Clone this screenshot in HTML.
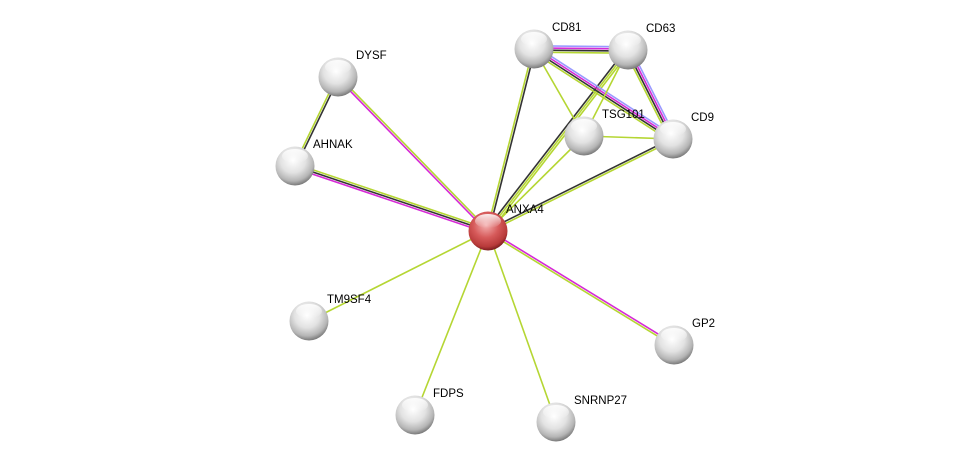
<!DOCTYPE html>
<html><head><meta charset="utf-8"><style>
body{margin:0;background:#fff;width:976px;height:468px;overflow:hidden}
svg{display:block}
text{font-family:"Liberation Sans",sans-serif;font-size:11.5px;fill:#000}
</style></head><body>
<svg id="s" width="976" height="468" xmlns="http://www.w3.org/2000/svg">
<defs>
<radialGradient id="g" cx="45%" cy="35%" r="65%">
<stop offset="0" stop-color="#ffffff"/><stop offset="0.5" stop-color="#e2e2e2"/><stop offset="0.82" stop-color="#b5b5b5"/><stop offset="1" stop-color="#7a7a7a"/></radialGradient>
<radialGradient id="r" cx="45%" cy="35%" r="65%">
<stop offset="0" stop-color="#f4b0b0"/><stop offset="0.5" stop-color="#d65a5a"/><stop offset="0.85" stop-color="#b83a3a"/><stop offset="1" stop-color="#7a1e1e"/></radialGradient>
<linearGradient id="hl" x1="0" y1="0" x2="0" y2="1"><stop offset="0" stop-color="#fff" stop-opacity="0.9"/><stop offset="1" stop-color="#fff" stop-opacity="0"/></linearGradient>
</defs>
<g id="edges"></g><g id="nodes"></g>
</svg>
<script>
var N={ANXA4:[488,231],DYSF:[338,77],AHNAK:[295,166],CD81:[534,49],CD63:[628,50],TSG101:[584,136],CD9:[673,139],TM9SF4:[309,321],FDPS:[415,415],SNRNP27:[556,422],GP2:[674,345]};
var M='#d62ad6',K='#333',Y='#b5d633',B='#9999ff';
var E=[['ANXA4','DYSF',[M,Y]],['ANXA4','AHNAK',[M,K,Y]],['DYSF','AHNAK',[K,Y]],['ANXA4','CD81',[Y,K]],['ANXA4','CD63',[K,Y,Y]],['ANXA4','CD9',[K,Y]],['ANXA4','TSG101',[Y]],['ANXA4','TM9SF4',[Y]],['ANXA4','FDPS',[Y]],['ANXA4','SNRNP27',[Y]],['ANXA4','GP2',[M,Y]],['CD81','CD63',[B,M,K,Y]],['CD81','CD9',[B,M,K,Y]],['CD63','CD9',[B,M,K,Y]],['CD81','TSG101',[Y]],['CD63','TSG101',[Y]],['TSG101','CD9',[Y]]];
var s='';
E.forEach(function(e){var a=N[e[0]],b=N[e[1]],dx=b[0]-a[0],dy=b[1]-a[1],L=Math.hypot(dx,dy),nx=-dy/L,ny=dx/L,n=e[2].length;
e[2].forEach(function(c,i){var o=(i-(n-1)/2)*2.1;s+='<line x1="'+(a[0]+nx*o)+'" y1="'+(a[1]+ny*o)+'" x2="'+(b[0]+nx*o)+'" y2="'+(b[1]+ny*o)+'" stroke="'+c+'" stroke-width="1.6"/>';});});
document.getElementById('edges').innerHTML=s;
var t='';
for(var k in N){var p=N[k],f=k=='ANXA4'?'r':'g';
t+='<circle cx="'+p[0]+'" cy="'+p[1]+'" r="19.5" fill="url(#'+f+')"/><ellipse cx="'+p[0]+'" cy="'+(p[1]-10)+'" rx="13" ry="7" fill="url(#hl)"/>';
t+='<text x="'+(p[0]+18)+'" y="'+(p[1]-18)+'">'+k+'</text>';}
document.getElementById('nodes').innerHTML=t;
</script>
</body></html>
